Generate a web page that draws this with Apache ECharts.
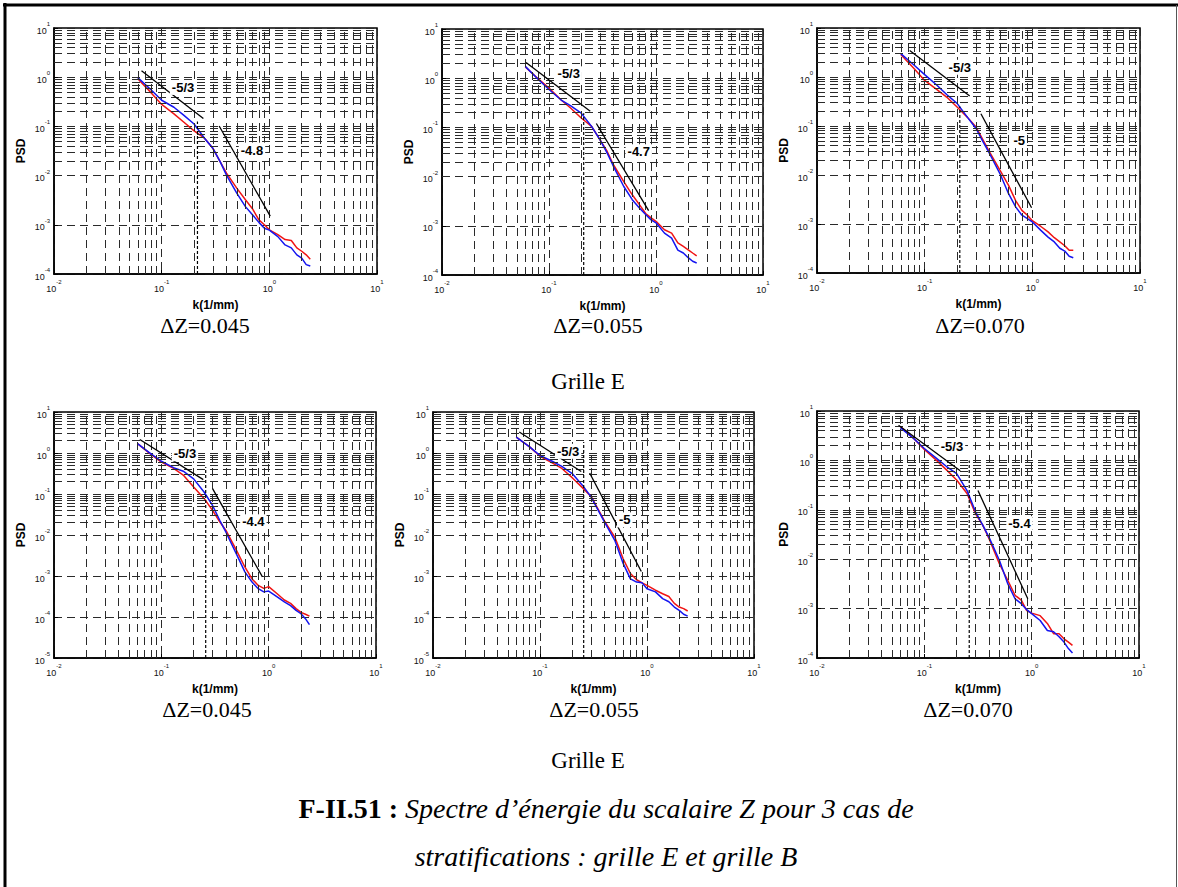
<!DOCTYPE html>
<html><head><meta charset="utf-8">
<script src="https://cdn.jsdelivr.net/npm/echarts@6/dist/echarts.min.js"></script>
<style>html,body{margin:0;padding:0;background:#fff}#c{width:1178px;height:887px}</style>
</head><body><div id="c"></div>
<script>
// wavenumber samples k (1/mm), shared by all panels
const kValues = [0.06,0.08,0.1,0.13,0.16,0.2,0.25,0.3,0.35,0.4,0.5,0.6,0.7,0.8,0.9,1.0,1.2,1.4,1.6,1.8,2.0,2.2,2.4];

// Grille E (top row)
const blueE045 = [0.98,0.55,0.34,0.245,0.17,0.112,0.0575,0.0355,0.019,0.0102,0.00437,0.00234,0.00158,0.00112,8.5e-4,7.8e-4,5.75e-4,3.9e-4,3.4e-4,2.45e-4,2.1e-4,1.55e-4,1.45e-4];
const redE045  = [0.93,0.48,0.28,0.18,0.123,0.081,0.0575,0.0355,0.019,0.0112,0.0055,0.00324,0.00209,0.00126,0.001,7.9e-4,6.3e-4,5.0e-4,4.8e-4,3.4e-4,2.9e-4,2.45e-4,2.0e-4];
const blueE055 = [1.74,0.93,0.59,0.36,0.275,0.195,0.105,0.056,0.030,0.0162,0.0063,0.0034,0.00229,0.0017,0.00132,0.00115,7.1e-4,5.6e-4,3.2e-4,2.8e-4,2.25e-4,1.9e-4,1.75e-4];
const redE055  = [1.70,0.955,0.63,0.36,0.245,0.155,0.105,0.056,0.0324,0.0174,0.0079,0.00427,0.00269,0.00178,0.00145,0.00123,8.3e-4,7.1e-4,4.5e-4,3.8e-4,3.25e-4,2.8e-4,2.45e-4];
const blueE070 = [3.0,1.74,1.12,0.68,0.44,0.29,0.15,0.089,0.047,0.0275,0.0107,0.0042,0.00224,0.00151,0.00129,0.0011,7.4e-4,5.4e-4,4.3e-4,3.2e-4,2.8e-4,2.2e-4,2.05e-4];
const redE070  = [2.88,1.48,0.85,0.55,0.39,0.245,0.15,0.095,0.051,0.0295,0.0126,0.0062,0.003,0.0019,0.00151,0.00117,8.9e-4,6.9e-4,5.25e-4,4.3e-4,3.6e-4,2.9e-4,2.9e-4];
// bottom row
const blueB045 = [1.70,0.955,0.63,0.44,0.36,0.234,0.112,0.0525,0.0229,0.0117,0.00347,0.00126,7.1e-4,4.9e-4,4.1e-4,4.3e-4,3.1e-4,2.35e-4,1.9e-4,1.45e-4,1.2e-4,9.1e-5,6.5e-5];
const redB045  = [1.70,0.93,0.60,0.42,0.29,0.148,0.078,0.040,0.021,0.0129,0.00427,0.00166,8.5e-4,5.9e-4,5.0e-4,5.5e-4,3.7e-4,2.6e-4,2.15e-4,1.6e-4,1.3e-4,1.17e-4,1.05e-4];
const blueB055 = [2.45,1.41,0.87,0.63,0.47,0.316,0.162,0.085,0.040,0.021,0.0074,0.002,8.5e-4,7.1e-4,6.8e-4,4.9e-4,4.1e-4,2.8e-4,2.35e-4,1.75e-4,1.45e-4,1.17e-4,1.05e-4];
const redB055  = [2.45,1.41,0.83,0.575,0.42,0.25,0.141,0.087,0.042,0.022,0.0089,0.0026,0.00115,8.1e-4,6.8e-4,5.9e-4,4.5e-4,3.7e-4,3.16e-4,2.15e-4,1.75e-4,1.6e-4,1.4e-4];
const blueB070 = [4.57,2.75,1.74,1.10,0.76,0.54,0.245,0.091,0.049,0.028,0.0095,0.00316,0.00158,0.00126,9.5e-4,7.9e-4,5.75e-4,3.6e-4,3.4e-4,2.7e-4,2.1e-4,1.55e-4,1.26e-4];
const redB070  = [4.79,2.75,1.66,1.0,0.65,0.40,0.214,0.083,0.049,0.0263,0.0081,0.0037,0.00186,0.00148,9.1e-4,8.1e-4,7.2e-4,5.0e-4,3.1e-4,3.1e-4,2.45e-4,2.1e-4,1.8e-4];

const blueSeries = [blueE045, blueE055, blueE070, blueB045, blueB055, blueB070];
const redSeries  = [redE045, redE055, redE070, redB045, redB055, redB070];

// reference slope lines [[k,psd],[k,psd]]
const slope53Lines = [
  [[0.065,1.35],[0.244,0.145]],
  [[0.061,2.09],[0.243,0.214]],
  [[0.0726,3.47],[0.262,0.41]],
  [[0.063,2.14],[0.246,0.224]],
  [[0.064,3.24],[0.243,0.355]],
  [[0.0575,5.13],[0.216,0.617]]
];
const steepLines = [
  [[0.342,0.102],[1.02,0.0015]],
  [[0.277,0.12],[0.853,0.00204]],
  [[0.333,0.178],[0.984,0.00214]],
  [[0.30,0.135],[0.875,0.00095]],
  [[0.291,0.324],[0.885,0.00129]],
  [[0.316,0.245],[0.92,0.00158]]
];
const steepLabels = ['-4.8','-4.7','-5','-4.4','-5','-5.4'];
const slope53LabelPos = [[0.158,0.62],[0.153,1.23],[0.212,1.58],[0.166,0.955],[0.183,1.1],[0.181,1.9]];
const steepLabelPos = [[0.69,0.033],[0.69,0.032],[0.755,0.051],[0.72,0.021],[0.62,0.0234],[0.77,0.0525]];
// dashed cut-off line: wavenumber and top value
const cutoffK = [0.215,0.211,0.212,0.259,0.256,0.262];
const cutoffTop = [0.126,0.195,0.25,0.457,1.86,1.0];

// axes
const xMin = 0.01, xMax = 10;
const yMinValues = [1e-4,1e-4,1e-4,1e-5,1e-5,1e-4];
const yMax = 10;

const panelCaptions = ['ΔZ=0.045','ΔZ=0.055','ΔZ=0.070','ΔZ=0.045','ΔZ=0.055','ΔZ=0.070'];
const rowCaptions = ['Grille E','Grille E'];

// layout (px)
const gridRects = [[54,28,323,246],[442,29,321,246],[817,28,323,245],[54,412,322,246],[433,412,321,246],[817,411,322,247]];
const captionPos = [[205,325],[598,325],[980,325],[207,709],[594,709],[968,709]];
const rowCaptionPos = [[588,381],[588,760]];

const GRID_COLOR = '#2a2a2a';
const GRID_DASH = [8,5];

function minorValues(minExp, maxExp){
  const out = [];
  for (let e = minExp; e < maxExp; e++){
    for (let m = 2; m <= 9; m++) out.push(+(m * Math.pow(10, e)).toPrecision(3));
  }
  return out;
}
function tickLabel(v){
  const e = Math.round(Math.log10(v));
  return '{b|10}{s|' + e + '}';
}
const labelRich = {
  b:{fontSize:9, lineHeight:14, verticalAlign:'bottom', fontFamily:'Liberation Sans, Arial', color:'#111'},
  s:{fontSize:6, lineHeight:7, verticalAlign:'top', fontFamily:'Liberation Sans, Arial', color:'#111'}
};
const titleStyle = {fontSize:12, fontWeight:'bold', fontFamily:'Liberation Sans, Arial', color:'#000'};

const grids=[], xAxes=[], yAxes=[], series=[];
for (let i=0;i<6;i++){
  const r = gridRects[i];
  grids.push({left:r[0], top:r[1], width:r[2], height:r[3], show:true, borderColor:'#000', borderWidth:1.5, containLabel:false});
  xAxes.push({type:'log', logBase:10, gridIndex:i, min:xMin, max:xMax,
    name:'k(1/mm)', nameLocation:'middle', nameGap:25, nameTextStyle:titleStyle,
    axisLine:{show:true, lineStyle:{color:'#000', width:1.5}},
    axisTick:{show:true, inside:true, length:4, lineStyle:{color:'#000'}},
    axisLabel:{formatter:tickLabel, rich:labelRich, margin:5, showMinLabel:true, showMaxLabel:true},
    splitLine:{show:true, lineStyle:{color:GRID_COLOR, type:GRID_DASH, width:1}}
  });
  yAxes.push({type:'log', logBase:10, gridIndex:i, min:yMinValues[i], max:yMax,
    name:'PSD', nameLocation:'middle', nameGap:27, nameRotate:90, nameTextStyle:titleStyle,
    axisLine:{show:true, lineStyle:{color:'#000', width:1.5}},
    axisTick:{show:true, inside:true, length:4, lineStyle:{color:'#000'}},
    axisLabel:{formatter:tickLabel, rich:labelRich, margin:4, showMinLabel:true, showMaxLabel:true},
    splitLine:{show:true, lineStyle:{color:GRID_COLOR, type:GRID_DASH, width:1}}
  });
  const yMinExp = Math.round(Math.log10(yMinValues[i]));
  const mlData = minorValues(-2, 1).map(v=>({xAxis:v})).concat(minorValues(yMinExp, 1).map(v=>({yAxis:v})));
  series.push({type:'line', xAxisIndex:i, yAxisIndex:i, data:[], silent:true, z:1,
    markLine:{silent:true, symbol:['none','none'], label:{show:false}, animation:false,
      lineStyle:{color:GRID_COLOR, type:GRID_DASH, width:1}, emphasis:{disabled:true}, data:mlData}});
  series.push({type:'line', xAxisIndex:i, yAxisIndex:i, z:3, showSymbol:false, silent:true,
    data:kValues.map((k,j)=>[k, redSeries[i][j]]), lineStyle:{color:'#f01414', width:1.5}, itemStyle:{color:'#f01414'}});
  series.push({type:'line', xAxisIndex:i, yAxisIndex:i, z:4, showSymbol:false, silent:true,
    data:kValues.map((k,j)=>[k, blueSeries[i][j]]), lineStyle:{color:'#1414f0', width:1.5}, itemStyle:{color:'#1414f0'}});
  series.push({type:'line', xAxisIndex:i, yAxisIndex:i, z:5, showSymbol:false, silent:true,
    data:slope53Lines[i], lineStyle:{color:'#000', width:1.3}});
  series.push({type:'line', xAxisIndex:i, yAxisIndex:i, z:5, showSymbol:false, silent:true,
    data:steepLines[i], lineStyle:{color:'#000', width:1.3}});
  series.push({type:'line', xAxisIndex:i, yAxisIndex:i, z:5, showSymbol:false, silent:true,
    data:[[cutoffK[i], yMinValues[i]],[cutoffK[i], cutoffTop[i]]], lineStyle:{color:'#000', width:1.2, type:[3,2]}});
  series.push({type:'scatter', xAxisIndex:i, yAxisIndex:i, z:6, silent:true, symbolSize:1,
    itemStyle:{color:'rgba(0,0,0,0)'},
    data:[[slope53LabelPos[i][0], slope53LabelPos[i][1], '-5/3'], [steepLabelPos[i][0], steepLabelPos[i][1], steepLabels[i]]],
    label:{show:true, position:'inside', formatter:p=>p.value[2], fontSize:13, fontWeight:'bold',
      fontFamily:'Liberation Sans, Arial', color:'#000', textBorderWidth:0, opacity:1,
      backgroundColor:'#fff', padding:[1,2]}});
}

const serifFont = 'Liberation Serif, Times New Roman, serif';
const graphics = [
  {type:'line', shape:{x1:5, y1:3, x2:5, y2:887}, style:{stroke:'#000', lineWidth:3}},
  {type:'line', shape:{x1:3, y1:5, x2:1178, y2:5}, style:{stroke:'#000', lineWidth:3}},
  {type:'line', shape:{x1:1176.5, y1:5, x2:1176.5, y2:887}, style:{stroke:'#555', lineWidth:1}}
];
panelCaptions.forEach((t,i)=>graphics.push({type:'text', x:captionPos[i][0], y:captionPos[i][1],
  style:{text:t, align:'center', verticalAlign:'middle', fontSize:22, fontFamily:serifFont, fill:'#000'}}));
rowCaptions.forEach((t,i)=>graphics.push({type:'text', x:rowCaptionPos[i][0], y:rowCaptionPos[i][1],
  style:{text:t, align:'center', verticalAlign:'middle', fontSize:23, fontFamily:serifFont, fill:'#000'}}));
graphics.push({type:'text', x:606, y:808, style:{text:'{b|F-II.51 :} {i|Spectre d’énergie du scalaire Z pour 3 cas de}',
  align:'center', verticalAlign:'middle', rich:{
    b:{fontSize:28, fontWeight:'bold', fontFamily:serifFont, fill:'#000'},
    i:{fontSize:28, fontStyle:'italic', fontFamily:serifFont, fill:'#000'}}, fontSize:28, fontFamily:serifFont}});
graphics.push({type:'text', x:606, y:856, style:{text:'stratifications : grille E et grille B',
  align:'center', verticalAlign:'middle', fontSize:28, fontStyle:'italic', fontFamily:serifFont, fill:'#000'}});

const chart = echarts.init(document.getElementById('c'), null, {renderer:'svg'});
chart.setOption({animation:false, backgroundColor:'#fff', grid:grids, xAxis:xAxes, yAxis:yAxes, series:series, graphic:graphics});
</script></body></html>
